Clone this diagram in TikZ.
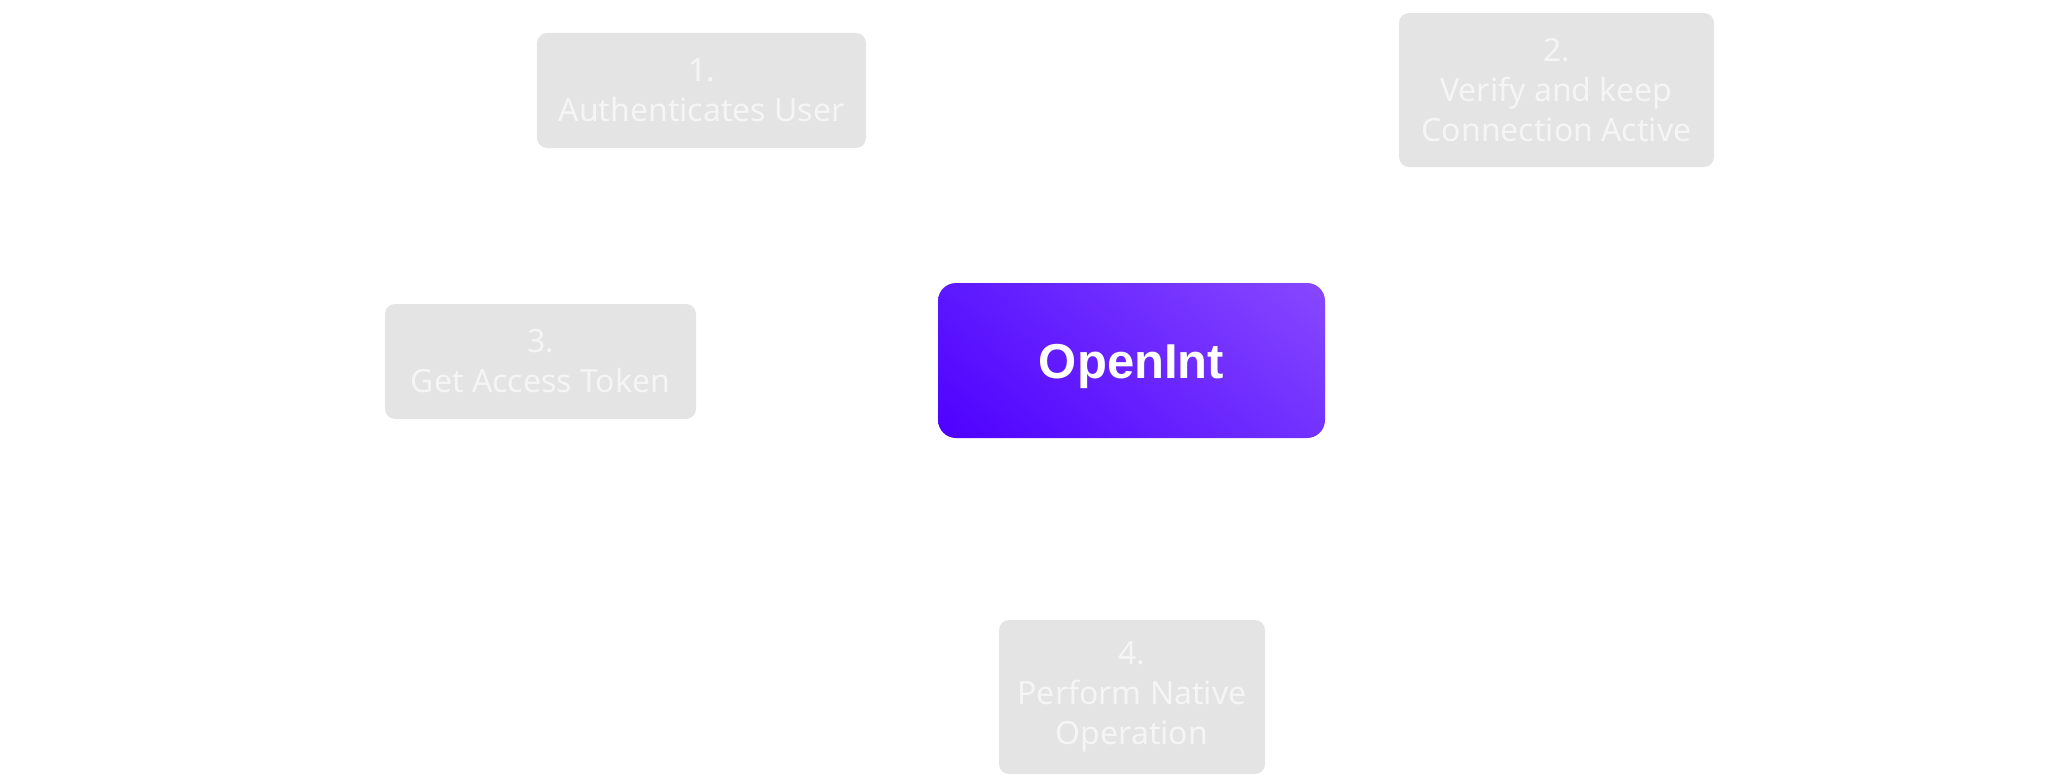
\documentclass[tikz,border=0pt]{standalone}
\usepackage{fontspec}
\setmainfont{Noto Sans}
\newfontfamily\hubfont{Liberation Sans}
\usetikzlibrary{shadings}
\definecolor{boxgray}{HTML}{E4E4E4}
\definecolor{boxtext}{HTML}{F5F5F5}
\definecolor{purpLL}{HTML}{4E00FF}
\definecolor{purpUR}{HTML}{8848FF}
\definecolor{purpUL}{HTML}{5C18FF}
\definecolor{purpLR}{HTML}{7232FF}
\begin{document}
\begin{tikzpicture}[x=1pt,y=-1pt,
  stepbox/.style={rectangle, rounded corners=10pt, fill=boxgray, text=boxtext,
    align=center, inner sep=0pt, font=\fontsize{32}{40}\selectfont},
  hub/.style={rectangle, rounded corners=18pt, inner sep=0pt,
    lower left=purpLL, upper right=purpUR, upper left=purpUL, lower right=purpLR,
    text=white, text height=35pt, text depth=0pt,
    font=\hubfont\bfseries\fontsize{49}{56}\selectfont}]
\useasboundingbox (0,0) rectangle (2058,776);
\node[stepbox, minimum width=329pt, minimum height=115pt] (s1) at (701.5,90.5) {1.\\Authenticates User};
\node[stepbox, minimum width=315pt, minimum height=154pt] (s2) at (1556.5,90) {2.\\Verify and keep\\Connection Active};
\node[stepbox, minimum width=311pt, minimum height=115pt] (s3) at (540.5,361.5) {3.\\Get Access Token};
\node[stepbox, minimum width=266pt, minimum height=154pt] (s4) at (1132,697) {4.\\Perform Native\\Operation};
\node[hub, shade, minimum width=387pt, minimum height=155pt] (hub) at (1131.5,360.5) {OpenInt};
\end{tikzpicture}
\end{document}
